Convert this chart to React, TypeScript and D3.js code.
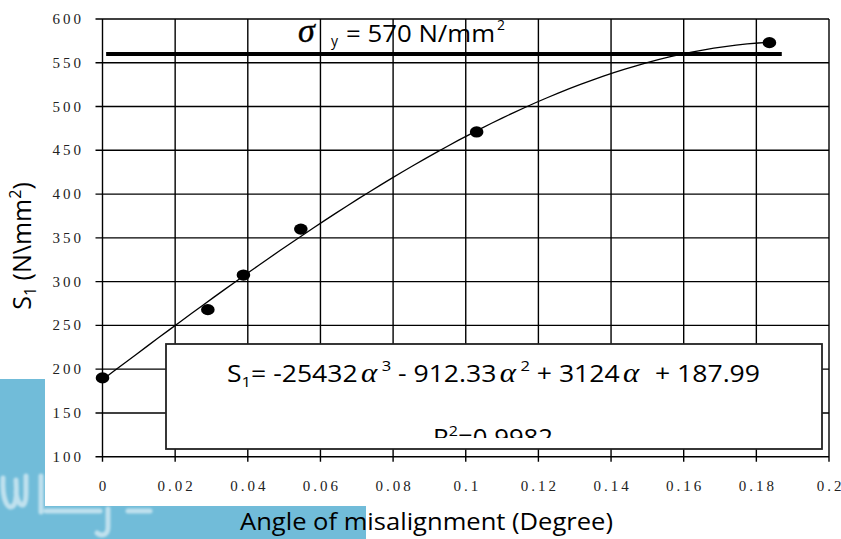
import * as d3 from "d3";

// measured points (angle in degree, S1 in N/mm2)
const angles = [0, 0.029, 0.0388, 0.0546, 0.103, 0.1836];
const stress = [190, 268, 307.5, 360, 471, 573];

// polynomial trendline from the chart label: c0 + c1*a + c2*a^2 + c3*a^3
const trendCoef = [187.99, 3124, -912.33, -25432];

// yield stress line (drawn at 560 on the chart)
const yieldValue = 560;
const yieldFrom = 0.001;
const yieldTo = 0.187;

const xTicks = [0, 0.02, 0.04, 0.06, 0.08, 0.1, 0.12, 0.14, 0.16, 0.18, 0.2];
const xTickLabels = ["0", "0.02", "0.04", "0.06", "0.08", "0.1", "0.12", "0.14", "0.16", "0.18", "0.2"];
const yTicks = [100, 150, 200, 250, 300, 350, 400, 450, 500, 550, 600];

const width = 841;
const height = 539;

const App = () => {
  const x = d3.scaleLinear().domain([0, 0.2]).range([102.5, 829]);
  const y = d3.scaleLinear().domain([100, 600]).range([456.7, 19]);

  const poly = (a: number) =>
    trendCoef.reduce((s, c, i) => s + c * Math.pow(a, i), 0);

  const lastAngle = angles[angles.length - 1];
  const samples = d3.range(0, 61).map((i) => (lastAngle * i) / 60);
  const trend = d3
    .line<number>()
    .x((a) => x(a))
    .y((a) => y(poly(a)))(samples);

  const tickFont = "'Liberation Serif', 'Times New Roman', serif";
  const labelFont = "'Open Sans', Lato, sans-serif";
  const greek = "'Liberation Serif', 'Times New Roman', serif";
  const blue = "#71bcd9";

  return (
    <svg
      width={width}
      height={height}
      style={{position: "absolute", left: 0, top: 0, background: "#fff"}}
    >
      <defs>
        <filter id="soft">
          <feGaussianBlur stdDeviation={1.2} />
        </filter>
        <clipPath id="eqClip">
          <rect x={166} y={344} width={656} height={94} />
        </clipPath>
      </defs>

      {/* faded watermark in the lower left */}
      <g>
        <rect x={0} y={379} width={45} height={160} fill={blue} />
        <rect x={0} y={506} width={366} height={33} fill={blue} />
        <g
          fill="none"
          stroke="#fff"
          strokeOpacity={0.55}
          strokeWidth={5}
          strokeLinecap="round"
          filter="url(#soft)"
        >
          <path d="M3,478 C2,500 8,512 14,505 C18,498 16,484 16,480 M16,492 C18,508 26,510 26,494 L26,476" />
          <path d="M41,476 L41,512" />
          <path d="M46,511 L100,511" />
          <path d="M108,509 L108,527 C108,535 102,537 97,533" />
          <path d="M128,511 L150,511" />
        </g>
      </g>

      {/* grid */}
      <g stroke="#000" strokeWidth={1.4}>
        {xTicks.map((t) => (
          <line key={"gx" + t} x1={x(t)} x2={x(t)} y1={y(600)} y2={y(100) + 5} />
        ))}
        {yTicks.map((t) => (
          <line key={"gy" + t} x1={x(0) - 7} x2={x(0.2)} y1={y(t)} y2={y(t)} />
        ))}
      </g>

      {/* y tick labels */}
      <g fontFamily={tickFont} fontSize={15} letterSpacing={3} textAnchor="end" fill="#222">
        {yTicks.map((t) => (
          <text key={"ty" + t} x={84} y={y(t) + 5}>
            {t}
          </text>
        ))}
      </g>

      {/* x tick labels */}
      <g fontFamily={tickFont} fontSize={15} letterSpacing={3} textAnchor="middle" fill="#222">
        {xTicks.map((t, i) => (
          <text key={"tx" + t} x={x(t) + 1.5} y={491}>
            {xTickLabels[i]}
          </text>
        ))}
      </g>

      {/* yield stress line */}
      <line
        x1={x(yieldFrom)}
        x2={x(yieldTo)}
        y1={y(yieldValue)}
        y2={y(yieldValue)}
        stroke="#000"
        strokeWidth={4}
      />
      <g fill="#000">
        <text
          x={298}
          y={42}
          fontFamily={greek}
          fontStyle="italic"
          fontSize={34}
          stroke="#000"
          strokeWidth={0.4}
        >
          σ
        </text>
        <text x={331} y={46} fontFamily={labelFont} fontSize={14}>
          y
        </text>
        <text x={346} y={42} fontFamily={labelFont} fontSize={23} textLength={149} lengthAdjust="spacingAndGlyphs">
          = 570 N/mm
        </text>
        <text x={497} y={30} fontFamily={labelFont} fontSize={14}>
          2
        </text>
      </g>

      {/* trendline */}
      <path d={trend ?? ""} fill="none" stroke="#000" strokeWidth={1.3} />

      {/* data points */}
      <g fill="#000">
        {angles.map((a, i) => (
          <ellipse key={"p" + i} cx={x(a)} cy={y(stress[i])} rx={6.8} ry={5.6} />
        ))}
      </g>

      {/* equation box */}
      <rect x={166} y={344} width={656} height={105} fill="#fff" stroke="#222" strokeWidth={1.8} />
      <g clipPath="url(#eqClip)">
        <text
          x={227}
          y={382}
          fontFamily={labelFont}
          fontSize={24}
          fill="#000"
          textLength={533}
          lengthAdjust="spacingAndGlyphs"
        >
          <tspan>S</tspan>
          <tspan fontSize={15} dy={5}>1</tspan>
          <tspan dy={-5}>= -25432</tspan>
          <tspan fontFamily={greek} fontStyle="italic" fontSize={28} dx={3}>α</tspan>
          <tspan fontSize={15} dy={-11} dx={4}>3</tspan>
          <tspan dy={11}> - 912.33</tspan>
          <tspan fontFamily={greek} fontStyle="italic" fontSize={28} dx={3}>α</tspan>
          <tspan fontSize={15} dy={-11} dx={4}>2</tspan>
          <tspan dy={11}> + 3124</tspan>
          <tspan fontFamily={greek} fontStyle="italic" fontSize={28} dx={3}>α</tspan>
          <tspan dx={8}> + 187.99</tspan>
        </text>
        <text
          x={433}
          y={446}
          fontFamily={labelFont}
          fontSize={24}
          fill="#000"
          textLength={120}
          lengthAdjust="spacingAndGlyphs"
        >
          <tspan>R</tspan>
          <tspan fontSize={15} dy={-10}>2</tspan>
          <tspan dy={10}>=0.9982</tspan>
        </text>
      </g>

      {/* axis titles */}
      <text
        transform="translate(31,246) rotate(-90)"
        textAnchor="middle"
        fontFamily={labelFont}
        fontSize={25}
        fill="#000"
      >
        <tspan>S</tspan>
        <tspan fontSize={16} dy={5}>1</tspan>
        <tspan dy={-5}> (N\mm</tspan>
        <tspan fontSize={16} dy={-10}>2</tspan>
        <tspan dy={10}>)</tspan>
      </text>
      <text
        x={240}
        y={530}
        fontFamily={labelFont}
        fontSize={23}
        fill="#000"
        textLength={373}
        lengthAdjust="spacingAndGlyphs"
      >
        Angle of misalignment (Degree)
      </text>
    </svg>
  );
};

export default App;
